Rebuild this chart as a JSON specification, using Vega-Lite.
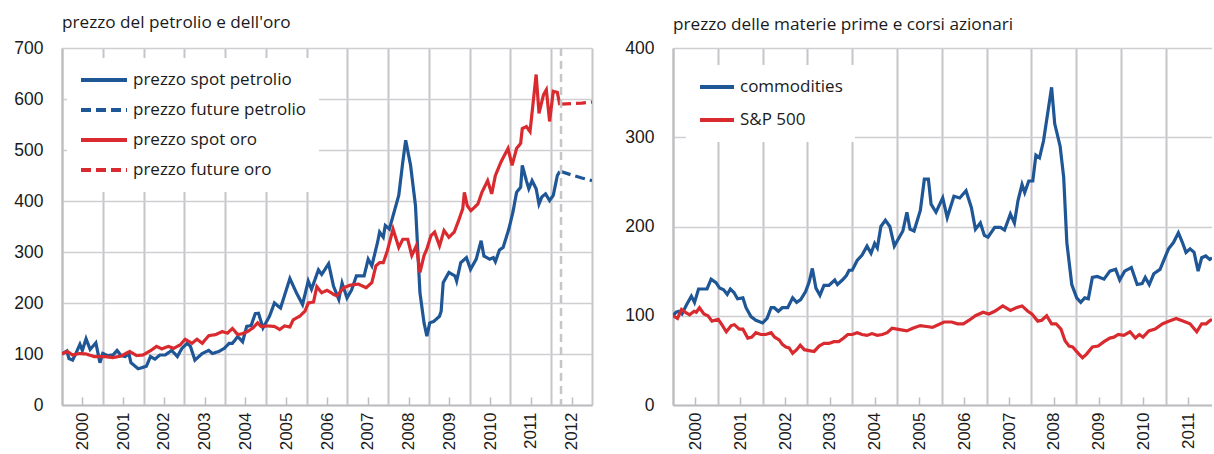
{
  "$schema": "https://vega.github.io/schema/vega-lite/v6.json",
  "background": "white",
  "padding": {"left": 0, "top": 13, "right": 0, "bottom": 0},
  "spacing": 21,
  "config": {
    "view": {"stroke": null},
    "axis": {"labelFont": "Liberation Sans", "labelFontSize": 17.5, "labelColor": "#1a1a1a", "title": null},
    "title": {"font": "Open Sans", "fontSize": 17.2, "fontWeight": "normal", "color": "#1a1a1a", "anchor": "start", "frame": "group"},
    "legend": {"labelFont": "Open Sans", "labelFontSize": 17, "labelColor": "#1a1a1a", "labelLimit": 400, "title": null, "orient": "none", "symbolType": "stroke", "symbolStrokeWidth": 4, "fillColor": "white", "padding": 12, "clipHeight": 20, "labelOffset": 4}
  },
  "datasets": {
    "left": [
      {"t": 2000.0, "v": 100, "serie": "prezzo spot petrolio"},
      {"t": 2000.12, "v": 106, "serie": "prezzo spot petrolio"},
      {"t": 2000.17, "v": 91, "serie": "prezzo spot petrolio"},
      {"t": 2000.26, "v": 88, "serie": "prezzo spot petrolio"},
      {"t": 2000.34, "v": 101, "serie": "prezzo spot petrolio"},
      {"t": 2000.44, "v": 119, "serie": "prezzo spot petrolio"},
      {"t": 2000.5, "v": 107, "serie": "prezzo spot petrolio"},
      {"t": 2000.59, "v": 130, "serie": "prezzo spot petrolio"},
      {"t": 2000.69, "v": 109, "serie": "prezzo spot petrolio"},
      {"t": 2000.83, "v": 122, "serie": "prezzo spot petrolio"},
      {"t": 2000.93, "v": 83, "serie": "prezzo spot petrolio"},
      {"t": 2001.0, "v": 101, "serie": "prezzo spot petrolio"},
      {"t": 2001.12, "v": 97, "serie": "prezzo spot petrolio"},
      {"t": 2001.25, "v": 98, "serie": "prezzo spot petrolio"},
      {"t": 2001.35, "v": 107, "serie": "prezzo spot petrolio"},
      {"t": 2001.45, "v": 97, "serie": "prezzo spot petrolio"},
      {"t": 2001.55, "v": 95, "serie": "prezzo spot petrolio"},
      {"t": 2001.64, "v": 101, "serie": "prezzo spot petrolio"},
      {"t": 2001.69, "v": 83, "serie": "prezzo spot petrolio"},
      {"t": 2001.87, "v": 71, "serie": "prezzo spot petrolio"},
      {"t": 2002.07, "v": 76, "serie": "prezzo spot petrolio"},
      {"t": 2002.17, "v": 95, "serie": "prezzo spot petrolio"},
      {"t": 2002.28, "v": 90, "serie": "prezzo spot petrolio"},
      {"t": 2002.4, "v": 98, "serie": "prezzo spot petrolio"},
      {"t": 2002.53, "v": 98, "serie": "prezzo spot petrolio"},
      {"t": 2002.69, "v": 107, "serie": "prezzo spot petrolio"},
      {"t": 2002.83, "v": 95, "serie": "prezzo spot petrolio"},
      {"t": 2002.94, "v": 111, "serie": "prezzo spot petrolio"},
      {"t": 2003.07, "v": 121, "serie": "prezzo spot petrolio"},
      {"t": 2003.15, "v": 115, "serie": "prezzo spot petrolio"},
      {"t": 2003.26, "v": 88, "serie": "prezzo spot petrolio"},
      {"t": 2003.44, "v": 101, "serie": "prezzo spot petrolio"},
      {"t": 2003.6, "v": 107, "serie": "prezzo spot petrolio"},
      {"t": 2003.69, "v": 101, "serie": "prezzo spot petrolio"},
      {"t": 2003.85, "v": 105, "serie": "prezzo spot petrolio"},
      {"t": 2003.98, "v": 111, "serie": "prezzo spot petrolio"},
      {"t": 2004.1, "v": 121, "serie": "prezzo spot petrolio"},
      {"t": 2004.18, "v": 121, "serie": "prezzo spot petrolio"},
      {"t": 2004.31, "v": 134, "serie": "prezzo spot petrolio"},
      {"t": 2004.43, "v": 124, "serie": "prezzo spot petrolio"},
      {"t": 2004.53, "v": 154, "serie": "prezzo spot petrolio"},
      {"t": 2004.64, "v": 156, "serie": "prezzo spot petrolio"},
      {"t": 2004.74, "v": 179, "serie": "prezzo spot petrolio"},
      {"t": 2004.82, "v": 180, "serie": "prezzo spot petrolio"},
      {"t": 2004.93, "v": 151, "serie": "prezzo spot petrolio"},
      {"t": 2005.09, "v": 174, "serie": "prezzo spot petrolio"},
      {"t": 2005.21, "v": 200, "serie": "prezzo spot petrolio"},
      {"t": 2005.36, "v": 190, "serie": "prezzo spot petrolio"},
      {"t": 2005.59, "v": 248, "serie": "prezzo spot petrolio"},
      {"t": 2005.75, "v": 220, "serie": "prezzo spot petrolio"},
      {"t": 2005.9, "v": 197, "serie": "prezzo spot petrolio"},
      {"t": 2006.04, "v": 243, "serie": "prezzo spot petrolio"},
      {"t": 2006.12, "v": 227, "serie": "prezzo spot petrolio"},
      {"t": 2006.29, "v": 265, "serie": "prezzo spot petrolio"},
      {"t": 2006.37, "v": 256, "serie": "prezzo spot petrolio"},
      {"t": 2006.54, "v": 277, "serie": "prezzo spot petrolio"},
      {"t": 2006.66, "v": 233, "serie": "prezzo spot petrolio"},
      {"t": 2006.79, "v": 207, "serie": "prezzo spot petrolio"},
      {"t": 2006.87, "v": 239, "serie": "prezzo spot petrolio"},
      {"t": 2006.99, "v": 210, "serie": "prezzo spot petrolio"},
      {"t": 2007.1, "v": 225, "serie": "prezzo spot petrolio"},
      {"t": 2007.22, "v": 253, "serie": "prezzo spot petrolio"},
      {"t": 2007.41, "v": 253, "serie": "prezzo spot petrolio"},
      {"t": 2007.51, "v": 286, "serie": "prezzo spot petrolio"},
      {"t": 2007.6, "v": 273, "serie": "prezzo spot petrolio"},
      {"t": 2007.74, "v": 319, "serie": "prezzo spot petrolio"},
      {"t": 2007.79, "v": 339, "serie": "prezzo spot petrolio"},
      {"t": 2007.88, "v": 329, "serie": "prezzo spot petrolio"},
      {"t": 2007.93, "v": 352, "serie": "prezzo spot petrolio"},
      {"t": 2008.03, "v": 345, "serie": "prezzo spot petrolio"},
      {"t": 2008.12, "v": 371, "serie": "prezzo spot petrolio"},
      {"t": 2008.26, "v": 411, "serie": "prezzo spot petrolio"},
      {"t": 2008.36, "v": 477, "serie": "prezzo spot petrolio"},
      {"t": 2008.43, "v": 519, "serie": "prezzo spot petrolio"},
      {"t": 2008.55, "v": 470, "serie": "prezzo spot petrolio"},
      {"t": 2008.67, "v": 391, "serie": "prezzo spot petrolio"},
      {"t": 2008.78, "v": 220, "serie": "prezzo spot petrolio"},
      {"t": 2008.88, "v": 161, "serie": "prezzo spot petrolio"},
      {"t": 2008.95, "v": 135, "serie": "prezzo spot petrolio"},
      {"t": 2009.02, "v": 161, "serie": "prezzo spot petrolio"},
      {"t": 2009.12, "v": 164, "serie": "prezzo spot petrolio"},
      {"t": 2009.26, "v": 174, "serie": "prezzo spot petrolio"},
      {"t": 2009.3, "v": 184, "serie": "prezzo spot petrolio"},
      {"t": 2009.35, "v": 240, "serie": "prezzo spot petrolio"},
      {"t": 2009.49, "v": 260, "serie": "prezzo spot petrolio"},
      {"t": 2009.64, "v": 253, "serie": "prezzo spot petrolio"},
      {"t": 2009.68, "v": 243, "serie": "prezzo spot petrolio"},
      {"t": 2009.78, "v": 279, "serie": "prezzo spot petrolio"},
      {"t": 2009.92, "v": 289, "serie": "prezzo spot petrolio"},
      {"t": 2010.02, "v": 266, "serie": "prezzo spot petrolio"},
      {"t": 2010.16, "v": 286, "serie": "prezzo spot petrolio"},
      {"t": 2010.28, "v": 322, "serie": "prezzo spot petrolio"},
      {"t": 2010.35, "v": 292, "serie": "prezzo spot petrolio"},
      {"t": 2010.49, "v": 286, "serie": "prezzo spot petrolio"},
      {"t": 2010.58, "v": 289, "serie": "prezzo spot petrolio"},
      {"t": 2010.63, "v": 281, "serie": "prezzo spot petrolio"},
      {"t": 2010.73, "v": 304, "serie": "prezzo spot petrolio"},
      {"t": 2010.82, "v": 309, "serie": "prezzo spot petrolio"},
      {"t": 2010.96, "v": 345, "serie": "prezzo spot petrolio"},
      {"t": 2011.06, "v": 378, "serie": "prezzo spot petrolio"},
      {"t": 2011.15, "v": 417, "serie": "prezzo spot petrolio"},
      {"t": 2011.25, "v": 427, "serie": "prezzo spot petrolio"},
      {"t": 2011.29, "v": 470, "serie": "prezzo spot petrolio"},
      {"t": 2011.39, "v": 440, "serie": "prezzo spot petrolio"},
      {"t": 2011.45, "v": 424, "serie": "prezzo spot petrolio"},
      {"t": 2011.53, "v": 440, "serie": "prezzo spot petrolio"},
      {"t": 2011.63, "v": 424, "serie": "prezzo spot petrolio"},
      {"t": 2011.7, "v": 394, "serie": "prezzo spot petrolio"},
      {"t": 2011.77, "v": 408, "serie": "prezzo spot petrolio"},
      {"t": 2011.86, "v": 414, "serie": "prezzo spot petrolio"},
      {"t": 2011.96, "v": 401, "serie": "prezzo spot petrolio"},
      {"t": 2012.05, "v": 411, "serie": "prezzo spot petrolio"},
      {"t": 2012.15, "v": 450, "serie": "prezzo spot petrolio"},
      {"t": 2012.21, "v": 458, "serie": "prezzo spot petrolio"},
      {"t": 2012.24, "v": 458, "serie": "prezzo future petrolio"},
      {"t": 2012.5, "v": 451, "serie": "prezzo future petrolio"},
      {"t": 2012.75, "v": 445, "serie": "prezzo future petrolio"},
      {"t": 2013.0, "v": 440, "serie": "prezzo future petrolio"},
      {"t": 2000.0, "v": 100, "serie": "prezzo spot oro"},
      {"t": 2000.13, "v": 105, "serie": "prezzo spot oro"},
      {"t": 2000.26, "v": 98, "serie": "prezzo spot oro"},
      {"t": 2000.42, "v": 101, "serie": "prezzo spot oro"},
      {"t": 2000.59, "v": 100, "serie": "prezzo spot oro"},
      {"t": 2000.79, "v": 95, "serie": "prezzo spot oro"},
      {"t": 2001.04, "v": 95, "serie": "prezzo spot oro"},
      {"t": 2001.25, "v": 93, "serie": "prezzo spot oro"},
      {"t": 2001.45, "v": 96, "serie": "prezzo spot oro"},
      {"t": 2001.66, "v": 105, "serie": "prezzo spot oro"},
      {"t": 2001.83, "v": 97, "serie": "prezzo spot oro"},
      {"t": 2001.99, "v": 98, "serie": "prezzo spot oro"},
      {"t": 2002.2, "v": 108, "serie": "prezzo spot oro"},
      {"t": 2002.32, "v": 115, "serie": "prezzo spot oro"},
      {"t": 2002.45, "v": 110, "serie": "prezzo spot oro"},
      {"t": 2002.61, "v": 115, "serie": "prezzo spot oro"},
      {"t": 2002.74, "v": 111, "serie": "prezzo spot oro"},
      {"t": 2002.9, "v": 118, "serie": "prezzo spot oro"},
      {"t": 2003.02, "v": 129, "serie": "prezzo spot oro"},
      {"t": 2003.19, "v": 121, "serie": "prezzo spot oro"},
      {"t": 2003.31, "v": 129, "serie": "prezzo spot oro"},
      {"t": 2003.44, "v": 121, "serie": "prezzo spot oro"},
      {"t": 2003.6, "v": 136, "serie": "prezzo spot oro"},
      {"t": 2003.77, "v": 138, "serie": "prezzo spot oro"},
      {"t": 2003.93, "v": 144, "serie": "prezzo spot oro"},
      {"t": 2004.06, "v": 141, "serie": "prezzo spot oro"},
      {"t": 2004.18, "v": 150, "serie": "prezzo spot oro"},
      {"t": 2004.31, "v": 138, "serie": "prezzo spot oro"},
      {"t": 2004.43, "v": 140, "serie": "prezzo spot oro"},
      {"t": 2004.55, "v": 144, "serie": "prezzo spot oro"},
      {"t": 2004.68, "v": 151, "serie": "prezzo spot oro"},
      {"t": 2004.8, "v": 161, "serie": "prezzo spot oro"},
      {"t": 2004.88, "v": 154, "serie": "prezzo spot oro"},
      {"t": 2005.05, "v": 155, "serie": "prezzo spot oro"},
      {"t": 2005.21, "v": 154, "serie": "prezzo spot oro"},
      {"t": 2005.34, "v": 148, "serie": "prezzo spot oro"},
      {"t": 2005.46, "v": 155, "serie": "prezzo spot oro"},
      {"t": 2005.59, "v": 153, "serie": "prezzo spot oro"},
      {"t": 2005.67, "v": 167, "serie": "prezzo spot oro"},
      {"t": 2005.83, "v": 174, "serie": "prezzo spot oro"},
      {"t": 2005.96, "v": 184, "serie": "prezzo spot oro"},
      {"t": 2006.04, "v": 200, "serie": "prezzo spot oro"},
      {"t": 2006.17, "v": 202, "serie": "prezzo spot oro"},
      {"t": 2006.25, "v": 232, "serie": "prezzo spot oro"},
      {"t": 2006.37, "v": 220, "serie": "prezzo spot oro"},
      {"t": 2006.5, "v": 225, "serie": "prezzo spot oro"},
      {"t": 2006.66, "v": 217, "serie": "prezzo spot oro"},
      {"t": 2006.74, "v": 214, "serie": "prezzo spot oro"},
      {"t": 2006.91, "v": 230, "serie": "prezzo spot oro"},
      {"t": 2007.07, "v": 235, "serie": "prezzo spot oro"},
      {"t": 2007.27, "v": 237, "serie": "prezzo spot oro"},
      {"t": 2007.46, "v": 230, "serie": "prezzo spot oro"},
      {"t": 2007.6, "v": 240, "serie": "prezzo spot oro"},
      {"t": 2007.7, "v": 273, "serie": "prezzo spot oro"},
      {"t": 2007.79, "v": 279, "serie": "prezzo spot oro"},
      {"t": 2007.88, "v": 279, "serie": "prezzo spot oro"},
      {"t": 2007.98, "v": 302, "serie": "prezzo spot oro"},
      {"t": 2008.12, "v": 345, "serie": "prezzo spot oro"},
      {"t": 2008.26, "v": 309, "serie": "prezzo spot oro"},
      {"t": 2008.36, "v": 325, "serie": "prezzo spot oro"},
      {"t": 2008.48, "v": 325, "serie": "prezzo spot oro"},
      {"t": 2008.58, "v": 293, "serie": "prezzo spot oro"},
      {"t": 2008.69, "v": 312, "serie": "prezzo spot oro"},
      {"t": 2008.78, "v": 260, "serie": "prezzo spot oro"},
      {"t": 2008.88, "v": 293, "serie": "prezzo spot oro"},
      {"t": 2008.95, "v": 306, "serie": "prezzo spot oro"},
      {"t": 2009.05, "v": 332, "serie": "prezzo spot oro"},
      {"t": 2009.14, "v": 339, "serie": "prezzo spot oro"},
      {"t": 2009.26, "v": 312, "serie": "prezzo spot oro"},
      {"t": 2009.37, "v": 342, "serie": "prezzo spot oro"},
      {"t": 2009.49, "v": 329, "serie": "prezzo spot oro"},
      {"t": 2009.62, "v": 339, "serie": "prezzo spot oro"},
      {"t": 2009.73, "v": 362, "serie": "prezzo spot oro"},
      {"t": 2009.83, "v": 385, "serie": "prezzo spot oro"},
      {"t": 2009.87, "v": 417, "serie": "prezzo spot oro"},
      {"t": 2009.94, "v": 391, "serie": "prezzo spot oro"},
      {"t": 2010.03, "v": 381, "serie": "prezzo spot oro"},
      {"t": 2010.2, "v": 394, "serie": "prezzo spot oro"},
      {"t": 2010.3, "v": 417, "serie": "prezzo spot oro"},
      {"t": 2010.44, "v": 440, "serie": "prezzo spot oro"},
      {"t": 2010.54, "v": 414, "serie": "prezzo spot oro"},
      {"t": 2010.63, "v": 450, "serie": "prezzo spot oro"},
      {"t": 2010.77, "v": 477, "serie": "prezzo spot oro"},
      {"t": 2010.94, "v": 503, "serie": "prezzo spot oro"},
      {"t": 2011.04, "v": 470, "serie": "prezzo spot oro"},
      {"t": 2011.15, "v": 503, "serie": "prezzo spot oro"},
      {"t": 2011.25, "v": 513, "serie": "prezzo spot oro"},
      {"t": 2011.29, "v": 542, "serie": "prezzo spot oro"},
      {"t": 2011.39, "v": 546, "serie": "prezzo spot oro"},
      {"t": 2011.48, "v": 536, "serie": "prezzo spot oro"},
      {"t": 2011.63, "v": 648, "serie": "prezzo spot oro"},
      {"t": 2011.7, "v": 572, "serie": "prezzo spot oro"},
      {"t": 2011.81, "v": 608, "serie": "prezzo spot oro"},
      {"t": 2011.88, "v": 618, "serie": "prezzo spot oro"},
      {"t": 2011.96, "v": 556, "serie": "prezzo spot oro"},
      {"t": 2012.05, "v": 615, "serie": "prezzo spot oro"},
      {"t": 2012.15, "v": 613, "serie": "prezzo spot oro"},
      {"t": 2012.21, "v": 588, "serie": "prezzo spot oro"},
      {"t": 2012.24, "v": 590, "serie": "prezzo future oro"},
      {"t": 2012.5, "v": 591, "serie": "prezzo future oro"},
      {"t": 2012.75, "v": 592, "serie": "prezzo future oro"},
      {"t": 2013.0, "v": 594, "serie": "prezzo future oro"}
    ],
    "vline": [{"t": 2012.24}],
    "right": [
      {"t": 2000.0, "v": 100, "serie": "commodities"},
      {"t": 2000.07, "v": 104, "serie": "commodities"},
      {"t": 2000.13, "v": 105, "serie": "commodities"},
      {"t": 2000.2, "v": 102, "serie": "commodities"},
      {"t": 2000.3, "v": 112, "serie": "commodities"},
      {"t": 2000.41, "v": 122, "serie": "commodities"},
      {"t": 2000.48, "v": 115, "serie": "commodities"},
      {"t": 2000.57, "v": 130, "serie": "commodities"},
      {"t": 2000.67, "v": 130, "serie": "commodities"},
      {"t": 2000.76, "v": 130, "serie": "commodities"},
      {"t": 2000.85, "v": 141, "serie": "commodities"},
      {"t": 2000.96, "v": 137, "serie": "commodities"},
      {"t": 2001.04, "v": 131, "serie": "commodities"},
      {"t": 2001.13, "v": 129, "serie": "commodities"},
      {"t": 2001.21, "v": 124, "serie": "commodities"},
      {"t": 2001.28, "v": 130, "serie": "commodities"},
      {"t": 2001.36, "v": 126, "serie": "commodities"},
      {"t": 2001.44, "v": 119, "serie": "commodities"},
      {"t": 2001.56, "v": 120, "serie": "commodities"},
      {"t": 2001.63, "v": 109, "serie": "commodities"},
      {"t": 2001.74, "v": 99, "serie": "commodities"},
      {"t": 2001.85, "v": 95, "serie": "commodities"},
      {"t": 2002.0, "v": 92, "serie": "commodities"},
      {"t": 2002.1, "v": 97, "serie": "commodities"},
      {"t": 2002.19, "v": 109, "serie": "commodities"},
      {"t": 2002.26, "v": 109, "serie": "commodities"},
      {"t": 2002.35, "v": 105, "serie": "commodities"},
      {"t": 2002.44, "v": 109, "serie": "commodities"},
      {"t": 2002.56, "v": 109, "serie": "commodities"},
      {"t": 2002.67, "v": 120, "serie": "commodities"},
      {"t": 2002.76, "v": 115, "serie": "commodities"},
      {"t": 2002.85, "v": 118, "serie": "commodities"},
      {"t": 2002.96, "v": 127, "serie": "commodities"},
      {"t": 2003.04, "v": 138, "serie": "commodities"},
      {"t": 2003.11, "v": 153, "serie": "commodities"},
      {"t": 2003.19, "v": 131, "serie": "commodities"},
      {"t": 2003.28, "v": 123, "serie": "commodities"},
      {"t": 2003.37, "v": 134, "serie": "commodities"},
      {"t": 2003.48, "v": 134, "serie": "commodities"},
      {"t": 2003.61, "v": 140, "serie": "commodities"},
      {"t": 2003.67, "v": 135, "serie": "commodities"},
      {"t": 2003.78, "v": 140, "serie": "commodities"},
      {"t": 2003.87, "v": 145, "serie": "commodities"},
      {"t": 2003.93, "v": 151, "serie": "commodities"},
      {"t": 2004.0, "v": 151, "serie": "commodities"},
      {"t": 2004.11, "v": 162, "serie": "commodities"},
      {"t": 2004.22, "v": 168, "serie": "commodities"},
      {"t": 2004.33, "v": 178, "serie": "commodities"},
      {"t": 2004.42, "v": 170, "serie": "commodities"},
      {"t": 2004.5, "v": 181, "serie": "commodities"},
      {"t": 2004.56, "v": 176, "serie": "commodities"},
      {"t": 2004.64, "v": 200, "serie": "commodities"},
      {"t": 2004.74, "v": 207, "serie": "commodities"},
      {"t": 2004.84, "v": 200, "serie": "commodities"},
      {"t": 2004.94, "v": 178, "serie": "commodities"},
      {"t": 2005.13, "v": 195, "serie": "commodities"},
      {"t": 2005.22, "v": 216, "serie": "commodities"},
      {"t": 2005.29, "v": 197, "serie": "commodities"},
      {"t": 2005.38, "v": 195, "serie": "commodities"},
      {"t": 2005.52, "v": 218, "serie": "commodities"},
      {"t": 2005.61, "v": 253, "serie": "commodities"},
      {"t": 2005.7, "v": 253, "serie": "commodities"},
      {"t": 2005.76, "v": 225, "serie": "commodities"},
      {"t": 2005.87, "v": 216, "serie": "commodities"},
      {"t": 2006.02, "v": 232, "serie": "commodities"},
      {"t": 2006.12, "v": 210, "serie": "commodities"},
      {"t": 2006.27, "v": 234, "serie": "commodities"},
      {"t": 2006.4, "v": 232, "serie": "commodities"},
      {"t": 2006.54, "v": 240, "serie": "commodities"},
      {"t": 2006.66, "v": 221, "serie": "commodities"},
      {"t": 2006.75, "v": 197, "serie": "commodities"},
      {"t": 2006.86, "v": 204, "serie": "commodities"},
      {"t": 2006.95, "v": 190, "serie": "commodities"},
      {"t": 2007.03, "v": 188, "serie": "commodities"},
      {"t": 2007.18, "v": 199, "serie": "commodities"},
      {"t": 2007.31, "v": 199, "serie": "commodities"},
      {"t": 2007.4, "v": 196, "serie": "commodities"},
      {"t": 2007.53, "v": 214, "serie": "commodities"},
      {"t": 2007.62, "v": 204, "serie": "commodities"},
      {"t": 2007.7, "v": 229, "serie": "commodities"},
      {"t": 2007.79, "v": 247, "serie": "commodities"},
      {"t": 2007.85, "v": 238, "serie": "commodities"},
      {"t": 2007.94, "v": 251, "serie": "commodities"},
      {"t": 2008.03, "v": 251, "serie": "commodities"},
      {"t": 2008.1, "v": 280, "serie": "commodities"},
      {"t": 2008.18, "v": 277, "serie": "commodities"},
      {"t": 2008.27, "v": 296, "serie": "commodities"},
      {"t": 2008.36, "v": 326, "serie": "commodities"},
      {"t": 2008.45, "v": 356, "serie": "commodities"},
      {"t": 2008.52, "v": 315, "serie": "commodities"},
      {"t": 2008.64, "v": 290, "serie": "commodities"},
      {"t": 2008.72, "v": 255, "serie": "commodities"},
      {"t": 2008.79, "v": 182, "serie": "commodities"},
      {"t": 2008.9, "v": 135, "serie": "commodities"},
      {"t": 2009.01, "v": 120, "serie": "commodities"},
      {"t": 2009.1, "v": 115, "serie": "commodities"},
      {"t": 2009.19, "v": 120, "serie": "commodities"},
      {"t": 2009.27, "v": 119, "serie": "commodities"},
      {"t": 2009.36, "v": 143, "serie": "commodities"},
      {"t": 2009.47, "v": 144, "serie": "commodities"},
      {"t": 2009.62, "v": 141, "serie": "commodities"},
      {"t": 2009.75, "v": 150, "serie": "commodities"},
      {"t": 2009.88, "v": 152, "serie": "commodities"},
      {"t": 2009.97, "v": 140, "serie": "commodities"},
      {"t": 2010.08, "v": 150, "serie": "commodities"},
      {"t": 2010.23, "v": 154, "serie": "commodities"},
      {"t": 2010.36, "v": 135, "serie": "commodities"},
      {"t": 2010.47, "v": 136, "serie": "commodities"},
      {"t": 2010.54, "v": 143, "serie": "commodities"},
      {"t": 2010.63, "v": 135, "serie": "commodities"},
      {"t": 2010.73, "v": 147, "serie": "commodities"},
      {"t": 2010.87, "v": 152, "serie": "commodities"},
      {"t": 2010.96, "v": 163, "serie": "commodities"},
      {"t": 2011.06, "v": 175, "serie": "commodities"},
      {"t": 2011.17, "v": 182, "serie": "commodities"},
      {"t": 2011.28, "v": 193, "serie": "commodities"},
      {"t": 2011.37, "v": 182, "serie": "commodities"},
      {"t": 2011.45, "v": 171, "serie": "commodities"},
      {"t": 2011.54, "v": 175, "serie": "commodities"},
      {"t": 2011.63, "v": 171, "serie": "commodities"},
      {"t": 2011.72, "v": 150, "serie": "commodities"},
      {"t": 2011.8, "v": 165, "serie": "commodities"},
      {"t": 2011.89, "v": 167, "serie": "commodities"},
      {"t": 2011.98, "v": 163, "serie": "commodities"},
      {"t": 2012.03, "v": 165, "serie": "commodities"},
      {"t": 2000.0, "v": 100, "serie": "S&P 500"},
      {"t": 2000.1, "v": 97, "serie": "S&P 500"},
      {"t": 2000.19, "v": 107, "serie": "S&P 500"},
      {"t": 2000.27, "v": 104, "serie": "S&P 500"},
      {"t": 2000.37, "v": 101, "serie": "S&P 500"},
      {"t": 2000.47, "v": 105, "serie": "S&P 500"},
      {"t": 2000.52, "v": 104, "serie": "S&P 500"},
      {"t": 2000.59, "v": 109, "serie": "S&P 500"},
      {"t": 2000.69, "v": 102, "serie": "S&P 500"},
      {"t": 2000.78, "v": 100, "serie": "S&P 500"},
      {"t": 2000.87, "v": 94, "serie": "S&P 500"},
      {"t": 2001.01, "v": 96, "serie": "S&P 500"},
      {"t": 2001.09, "v": 90, "serie": "S&P 500"},
      {"t": 2001.19, "v": 82, "serie": "S&P 500"},
      {"t": 2001.3, "v": 89, "serie": "S&P 500"},
      {"t": 2001.37, "v": 90, "serie": "S&P 500"},
      {"t": 2001.48, "v": 85, "serie": "S&P 500"},
      {"t": 2001.56, "v": 85, "serie": "S&P 500"},
      {"t": 2001.67, "v": 75, "serie": "S&P 500"},
      {"t": 2001.76, "v": 76, "serie": "S&P 500"},
      {"t": 2001.85, "v": 81, "serie": "S&P 500"},
      {"t": 2001.96, "v": 79, "serie": "S&P 500"},
      {"t": 2002.07, "v": 79, "serie": "S&P 500"},
      {"t": 2002.19, "v": 81, "serie": "S&P 500"},
      {"t": 2002.27, "v": 76, "serie": "S&P 500"},
      {"t": 2002.37, "v": 73, "serie": "S&P 500"},
      {"t": 2002.44, "v": 68, "serie": "S&P 500"},
      {"t": 2002.52, "v": 65, "serie": "S&P 500"},
      {"t": 2002.59, "v": 64, "serie": "S&P 500"},
      {"t": 2002.67, "v": 58, "serie": "S&P 500"},
      {"t": 2002.76, "v": 62, "serie": "S&P 500"},
      {"t": 2002.84, "v": 67, "serie": "S&P 500"},
      {"t": 2002.93, "v": 62, "serie": "S&P 500"},
      {"t": 2003.04, "v": 61, "serie": "S&P 500"},
      {"t": 2003.15, "v": 60, "serie": "S&P 500"},
      {"t": 2003.26, "v": 66, "serie": "S&P 500"},
      {"t": 2003.37, "v": 69, "serie": "S&P 500"},
      {"t": 2003.48, "v": 69, "serie": "S&P 500"},
      {"t": 2003.59, "v": 71, "serie": "S&P 500"},
      {"t": 2003.7, "v": 71, "serie": "S&P 500"},
      {"t": 2003.81, "v": 75, "serie": "S&P 500"},
      {"t": 2003.9, "v": 79, "serie": "S&P 500"},
      {"t": 2004.0, "v": 79, "serie": "S&P 500"},
      {"t": 2004.11, "v": 81, "serie": "S&P 500"},
      {"t": 2004.22, "v": 79, "serie": "S&P 500"},
      {"t": 2004.33, "v": 78, "serie": "S&P 500"},
      {"t": 2004.44, "v": 80, "serie": "S&P 500"},
      {"t": 2004.56, "v": 78, "serie": "S&P 500"},
      {"t": 2004.67, "v": 79, "serie": "S&P 500"},
      {"t": 2004.78, "v": 81, "serie": "S&P 500"},
      {"t": 2004.89, "v": 86, "serie": "S&P 500"},
      {"t": 2005.0, "v": 85, "serie": "S&P 500"},
      {"t": 2005.22, "v": 83, "serie": "S&P 500"},
      {"t": 2005.35, "v": 86, "serie": "S&P 500"},
      {"t": 2005.52, "v": 89, "serie": "S&P 500"},
      {"t": 2005.66, "v": 88, "serie": "S&P 500"},
      {"t": 2005.79, "v": 87, "serie": "S&P 500"},
      {"t": 2005.92, "v": 90, "serie": "S&P 500"},
      {"t": 2006.05, "v": 93, "serie": "S&P 500"},
      {"t": 2006.22, "v": 93, "serie": "S&P 500"},
      {"t": 2006.35, "v": 91, "serie": "S&P 500"},
      {"t": 2006.48, "v": 91, "serie": "S&P 500"},
      {"t": 2006.61, "v": 95, "serie": "S&P 500"},
      {"t": 2006.75, "v": 100, "serie": "S&P 500"},
      {"t": 2006.92, "v": 104, "serie": "S&P 500"},
      {"t": 2007.05, "v": 102, "serie": "S&P 500"},
      {"t": 2007.18, "v": 105, "serie": "S&P 500"},
      {"t": 2007.36, "v": 111, "serie": "S&P 500"},
      {"t": 2007.53, "v": 106, "serie": "S&P 500"},
      {"t": 2007.66, "v": 109, "serie": "S&P 500"},
      {"t": 2007.79, "v": 111, "serie": "S&P 500"},
      {"t": 2007.92, "v": 105, "serie": "S&P 500"},
      {"t": 2008.01, "v": 102, "serie": "S&P 500"},
      {"t": 2008.14, "v": 94, "serie": "S&P 500"},
      {"t": 2008.23, "v": 95, "serie": "S&P 500"},
      {"t": 2008.34, "v": 100, "serie": "S&P 500"},
      {"t": 2008.45, "v": 91, "serie": "S&P 500"},
      {"t": 2008.55, "v": 91, "serie": "S&P 500"},
      {"t": 2008.66, "v": 85, "serie": "S&P 500"},
      {"t": 2008.75, "v": 72, "serie": "S&P 500"},
      {"t": 2008.84, "v": 66, "serie": "S&P 500"},
      {"t": 2008.92, "v": 65, "serie": "S&P 500"},
      {"t": 2009.06, "v": 57, "serie": "S&P 500"},
      {"t": 2009.14, "v": 53, "serie": "S&P 500"},
      {"t": 2009.23, "v": 57, "serie": "S&P 500"},
      {"t": 2009.36, "v": 65, "serie": "S&P 500"},
      {"t": 2009.49, "v": 66, "serie": "S&P 500"},
      {"t": 2009.62, "v": 71, "serie": "S&P 500"},
      {"t": 2009.75, "v": 75, "serie": "S&P 500"},
      {"t": 2009.84, "v": 76, "serie": "S&P 500"},
      {"t": 2009.94, "v": 79, "serie": "S&P 500"},
      {"t": 2010.06, "v": 78, "serie": "S&P 500"},
      {"t": 2010.2, "v": 82, "serie": "S&P 500"},
      {"t": 2010.32, "v": 75, "serie": "S&P 500"},
      {"t": 2010.41, "v": 79, "serie": "S&P 500"},
      {"t": 2010.49, "v": 76, "serie": "S&P 500"},
      {"t": 2010.62, "v": 83, "serie": "S&P 500"},
      {"t": 2010.76, "v": 85, "serie": "S&P 500"},
      {"t": 2010.93, "v": 91, "serie": "S&P 500"},
      {"t": 2011.08, "v": 94, "serie": "S&P 500"},
      {"t": 2011.23, "v": 97, "serie": "S&P 500"},
      {"t": 2011.38, "v": 94, "serie": "S&P 500"},
      {"t": 2011.54, "v": 91, "serie": "S&P 500"},
      {"t": 2011.69, "v": 82, "serie": "S&P 500"},
      {"t": 2011.8, "v": 91, "serie": "S&P 500"},
      {"t": 2011.9, "v": 91, "serie": "S&P 500"},
      {"t": 2011.97, "v": 94, "serie": "S&P 500"},
      {"t": 2012.03, "v": 96, "serie": "S&P 500"}
    ]
  },
  "hconcat": [
    {
      "width": 530,
      "height": 357,
      "title": {"text": "prezzo del petrolio e dell'oro", "offset": 8},
      "layer": [
        {
          "data": {"name": "left"},
          "mark": {"type": "line", "strokeWidth": 3.2, "clip": true},
          "encoding": {
            "x": {"field": "t", "type": "quantitative",
              "scale": {"domain": [2000, 2013], "nice": false, "zero": false},
              "axis": {"orient": "bottom", "values": [2000, 2001, 2002, 2003, 2004, 2005, 2006, 2007, 2008, 2009, 2010, 2011, 2012, 2013],
                "grid": true, "gridColor": "#c6c6ca", "gridWidth": 2, "labels": false, "ticks": false,
                "domain": true, "domainColor": "#bdbdc2", "domainWidth": 2}},
            "y": {"field": "v", "type": "quantitative",
              "scale": {"domain": [0, 700], "nice": false},
              "axis": {"values": [0, 100, 200, 300, 400, 500, 600, 700], "grid": true, "gridColor": "#cfcfd3", "gridWidth": 1.5,
                "domain": true, "domainColor": "#bdbdc2", "domainWidth": 2, "ticks": false, "labelPadding": 19, "minExtent": 62}},
            "color": {"field": "serie", "type": "nominal",
              "scale": {"domain": ["prezzo spot petrolio", "prezzo future petrolio", "prezzo spot oro", "prezzo future oro"],
                "range": ["#1f5696", "#1f5696", "#d92b2f", "#d92b2f"]},
              "legend": {"legendX": 5, "legendY": 10, "symbolSize": 2116, "rowPadding": 10}},
            "strokeDash": {"field": "serie", "type": "nominal",
              "scale": {"domain": ["prezzo spot petrolio", "prezzo future petrolio", "prezzo spot oro", "prezzo future oro"],
                "range": [[1, 0], [10, 5], [1, 0], [10, 5]]},
              "legend": {"legendX": 5, "legendY": 10, "symbolSize": 2116, "rowPadding": 10}}
          }
        },
        {
          "data": {"name": "vline"},
          "mark": {"type": "rule", "color": "#c6c6ca", "strokeDash": [8, 5], "strokeWidth": 2.5},
          "encoding": {
            "x": {"field": "t", "type": "quantitative",
              "axis": {"orient": "bottom", "values": [2000.5, 2001.5, 2002.5, 2003.5, 2004.5, 2005.5, 2006.5, 2007.5, 2008.5, 2009.5, 2010.5, 2011.5, 2012.5],
                "labelExpr": "floor(datum.value)", "labelAngle": 270, "grid": false, "domain": false,
                "ticks": true, "tickSize": -8, "tickColor": "#bdbdc2", "tickWidth": 1.5, "labelPadding": 15,
                "labelFontSize": 17, "labelFlush": false, "labelOverlap": false}}
          }
        }
      ],
      "resolve": {"axis": {"x": "independent"}}
    },
    {
      "width": 539,
      "height": 357,
      "title": {"text": "prezzo delle materie prime e corsi azionari", "offset": 6},
      "data": {"name": "right"},
      "layer": [
        {
          "transform": [{"filter": "datum.serie == 'commodities'"}],
          "mark": {"type": "line", "strokeWidth": 3.2, "clip": true},
          "encoding": {
            "x": {"field": "t", "type": "quantitative",
              "scale": {"domain": [2000, 2012.03], "nice": false, "zero": false},
              "axis": {"orient": "bottom", "values": [2000, 2001, 2002, 2003, 2004, 2005, 2006, 2007, 2008, 2009, 2010, 2011],
                "grid": true, "gridColor": "#c6c6ca", "gridWidth": 2, "labels": false, "ticks": false,
                "domain": true, "domainColor": "#bdbdc2", "domainWidth": 2}},
            "y": {"field": "v", "type": "quantitative",
              "scale": {"domain": [0, 400], "nice": false},
              "axis": {"values": [0, 100, 200, 300, 400], "grid": true, "gridColor": "#cfcfd3", "gridWidth": 1.5,
                "domain": true, "domainColor": "#bdbdc2", "domainWidth": 2, "ticks": false, "labelPadding": 19, "minExtent": 60}},
            "color": {"field": "serie", "type": "nominal",
              "scale": {"domain": ["commodities", "S&P 500"], "range": ["#1f5696", "#d92b2f"]},
              "legend": {"legendX": 13, "legendY": 17, "symbolSize": 1156, "rowPadding": 13}}
          }
        },
        {
          "transform": [{"filter": "datum.serie == 'S&P 500'"}],
          "mark": {"type": "line", "strokeWidth": 3.2, "clip": true},
          "encoding": {
            "x": {"field": "t", "type": "quantitative",
              "axis": {"orient": "bottom", "values": [2000.5, 2001.5, 2002.5, 2003.5, 2004.5, 2005.5, 2006.5, 2007.5, 2008.5, 2009.5, 2010.5, 2011.5],
                "labelExpr": "floor(datum.value)", "labelAngle": 270, "grid": false, "domain": false,
                "ticks": true, "tickSize": -8, "tickColor": "#bdbdc2", "tickWidth": 1.5, "labelPadding": 15,
                "labelFontSize": 17, "labelFlush": false, "labelOverlap": false}},
            "y": {"field": "v", "type": "quantitative"},
            "color": {"field": "serie", "type": "nominal",
              "legend": {"legendX": 13, "legendY": 17, "symbolSize": 1156, "rowPadding": 13}}
          }
        }
      ],
      "resolve": {"axis": {"x": "independent"}}
    }
  ],
  "resolve": {"scale": {"color": "independent", "strokeDash": "independent", "x": "independent", "y": "independent"}, "legend": {"color": "independent", "strokeDash": "independent"}}
}
